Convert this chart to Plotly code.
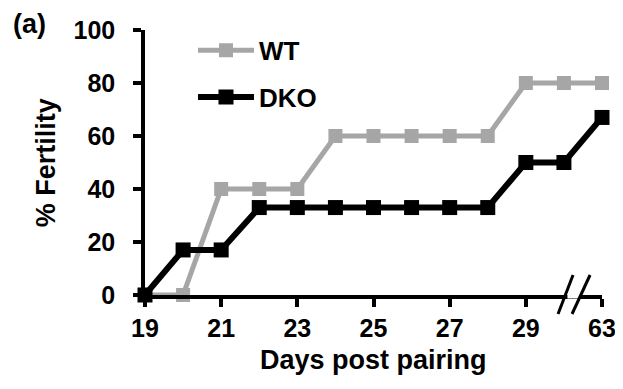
import plotly.graph_objects as go

days = ["19", "20", "21", "22", "23", "24", "25", "26", "27", "28", "29", "30", "63"]
wt = [0, 0, 40, 40, 40, 60, 60, 60, 60, 60, 80, 80, 80]
dko = [0, 17, 17, 33, 33, 33, 33, 33, 33, 33, 50, 50, 67]
x_ticks = ["19", "21", "23", "25", "27", "29", "63"]
y_ticks = [0, 20, 40, 60, 80, 100]
x_title = "Days post pairing"
y_title = "% Fertility"

FONT = "Liberation Sans, Arial, sans-serif"

fig = go.Figure()
fig.add_trace(go.Scatter(
    x=days, y=wt, name="WT", mode="lines+markers", legendgroup="wt",
    line=dict(color="#A6A6A6", width=5),
    marker=dict(symbol="square", size=14, color="#A6A6A6"),
    cliponaxis=False,
))
fig.add_trace(go.Scatter(
    x=days, y=dko, name="DKO", mode="lines+markers", legendgroup="dko",
    line=dict(color="#000000", width=6),
    marker=dict(symbol="square", size=15, color="#000000"),
    cliponaxis=False,
))

axis_common = dict(
    showline=True, linecolor="black", linewidth=3.5,
    ticks="outside", ticklen=8, tickwidth=3.5, tickcolor="black",
    showgrid=False, zeroline=False, automargin=False,
    ticklabelposition="outside",
    tickfont=dict(family=FONT, size=25, color="black", weight="bold"),
)

fig.update_xaxes(
    type="category", categoryorder="array", categoryarray=days,
    range=[0, len(days) - 1],
    tickmode="array", tickvals=x_ticks, ticktext=x_ticks,
    ticklabelstandoff=0,
    **axis_common,
)
fig.update_yaxes(
    range=[0, 100], tickmode="array", tickvals=y_ticks,
    ticklabelstandoff=13,
    **axis_common,
)

# axis titles
title_font = dict(family=FONT, size=27, color="black", weight="bold")
fig.add_annotation(text=x_title, xref="paper", yref="paper",
                   x=0.5, y=-0.245, xanchor="center", yanchor="middle",
                   showarrow=False, font=title_font)
fig.add_annotation(text=y_title, xref="paper", yref="paper",
                   x=-0.217, y=0.5, xanchor="center", yanchor="middle",
                   textangle=-90, showarrow=False, font=title_font)

# axis break: white gap in the axis line, then two slanted marks
fig.add_shape(type="line", xref="x", yref="paper",
              xsizemode="pixel", xanchor=11.25, x0=-6, x1=7,
              ysizemode="pixel", yanchor=0, y0=0, y1=0,
              line=dict(color="white", width=7))
for x0, x1 in [(-15.4, -0.4), (-1.4, 16.6)]:
    fig.add_shape(type="line", xref="x", yref="paper",
                  xsizemode="pixel", xanchor=11.25, x0=x0, x1=x1,
                  ysizemode="pixel", yanchor=0, y0=-19, y1=20,
                  line=dict(color="black", width=3))

fig.add_annotation(text="(a)", xref="paper", yref="paper",
                   x=-0.293, y=1.022, xanchor="left", yanchor="middle",
                   showarrow=False,
                   font=dict(family=FONT, size=27, color="black", weight="bold"))

# page body has an 8px margin; compensate so the plot lands at the reference position
fig.update_layout(
    width=615, height=381,
    margin=dict(l=137, r=21, t=22, b=94, autoexpand=False),
    paper_bgcolor="white", plot_bgcolor="white",
    showlegend=True,
    legend=dict(x=0.105, y=1.012, xanchor="left", yanchor="top",
                bgcolor="rgba(0,0,0,0)", itemwidth=56, tracegroupgap=10,
                font=dict(family=FONT, size=26, color="black", weight="bold")),
)

fig.write_html("out.html")
